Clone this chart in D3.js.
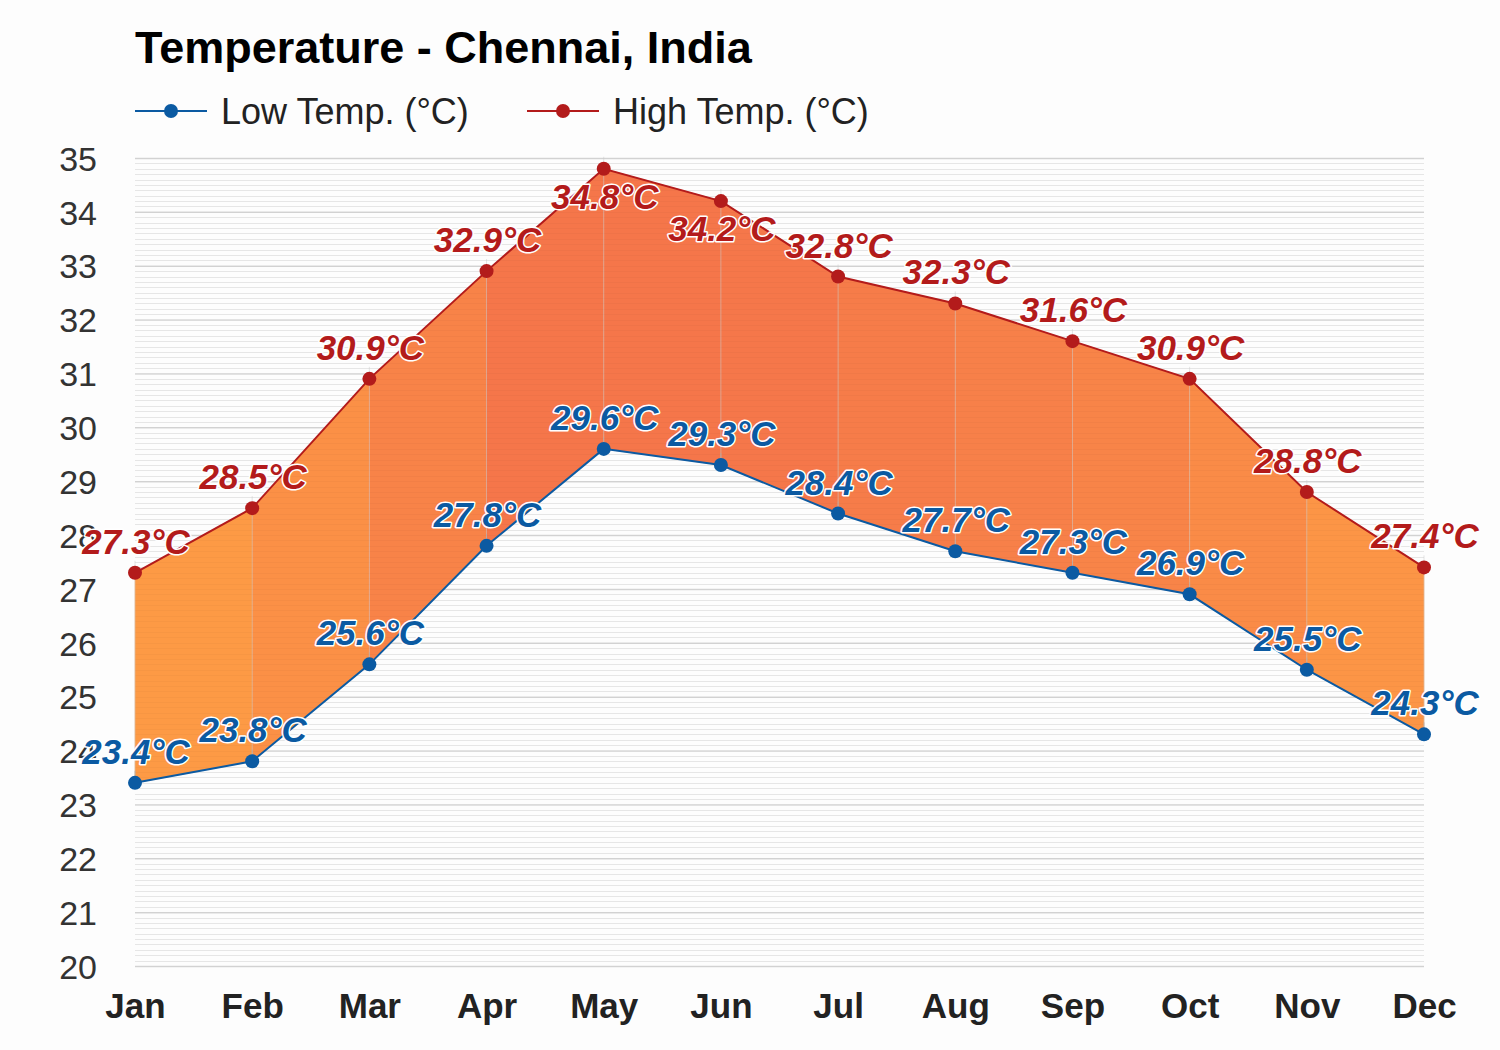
<!DOCTYPE html>
<html><head><meta charset="utf-8">
<script src="https://cdn.jsdelivr.net/npm/d3@7"></script>
<style>
body{margin:0;background:#fdfdfd;}
svg{display:block;font-family:"Liberation Sans",Arial,sans-serif;}
</style></head>
<body>
<svg id="chart" width="1500" height="1050"></svg>
<script>
const months = ["Jan","Feb","Mar","Apr","May","Jun","Jul","Aug","Sep","Oct","Nov","Dec"];
const lowTemps = [23.4,23.8,25.6,27.8,29.6,29.3,28.4,27.7,27.3,26.9,25.5,24.3];
const highTemps = [27.3,28.5,30.9,32.9,34.8,34.2,32.8,32.3,31.6,30.9,28.8,27.4];
const yTicks = [20,21,22,23,24,25,26,27,28,29,30,31,32,33,34,35];
const seriesNames = ["Low Temp. (°C)","High Temp. (°C)"];
const title = "Temperature - Chennai, India";

const lowColor = "#0b5aa2", highColor = "#b31b1b";
const svg = d3.select("#chart");
const x = d3.scalePoint().domain(months).range([135,1424]);
const y = d3.scaleLinear().domain([20,35]).range([966,158]);

svg.append("rect").attr("width",1500).attr("height",1050).attr("fill","#fdfdfd");

const minor = d3.range(200,351).map(v=>v/10);
svg.append("g").selectAll("line").data(minor.filter(v=>Math.abs(v-Math.round(v))>1e-6)).join("line")
  .attr("x1",135).attr("x2",1424).attr("y1",d=>Math.round(y(d))+0.5).attr("y2",d=>Math.round(y(d))+0.5)
  .attr("stroke","#ececec").attr("stroke-width",1);
const yAxis = svg.append("g").attr("transform","translate(135,0)")
  .call(d3.axisLeft(y).tickValues(yTicks).tickSize(-1289).tickFormat(d3.format("d")));
yAxis.select(".domain").remove();
yAxis.selectAll(".tick line").attr("stroke","#d8d8d8").attr("stroke-width",1.5);
yAxis.selectAll(".tick text").attr("x",-38).attr("fill","#333").attr("font-size",34)
  .attr("font-family","'Liberation Sans',Arial,sans-serif").attr("dy","0.36em");

const color = d3.scaleLinear().domain([25.7,31.3]).range(["#fd9a45","#f5764a"]).clamp(true);
for(let i=0;i<months.length-1;i++){
  const avg=(lowTemps[i]+lowTemps[i+1]+highTemps[i]+highTemps[i+1])/4;
  const area = d3.area().x(d=>x(d.m)).y0(d=>y(d.lo)).y1(d=>y(d.hi));
  svg.append("path").datum([{m:months[i],lo:lowTemps[i],hi:highTemps[i]},{m:months[i+1],lo:lowTemps[i+1],hi:highTemps[i+1]}])
    .attr("d",area).attr("fill",color(avg)).attr("stroke",color(avg)).attr("stroke-width",0.5);
}
svg.append("g").selectAll("line").data(minor).join("line")
  .attr("x1",135).attr("x2",1424).attr("y1",d=>Math.round(y(d))+0.5).attr("y2",d=>Math.round(y(d))+0.5)
  .attr("stroke","#000").attr("stroke-opacity",0.025).attr("stroke-width",1);
svg.append("g").selectAll("line").data(months).join("line")
  .attr("x1",d=>x(d)).attr("x2",d=>x(d))
  .attr("y1",(d,i)=>y(lowTemps[i])).attr("y2",(d,i)=>y(highTemps[i])-12)
  .attr("stroke","#ccc").attr("stroke-opacity",0.5).attr("stroke-width",1);
svg.append("g").selectAll("line").data(months).join("line")
  .attr("x1",d=>x(d)).attr("x2",d=>x(d))
  .attr("y1",(d,i)=>y(lowTemps[i])).attr("y2",(d,i)=>y(lowTemps[i])-12)
  .attr("stroke","#aaa").attr("stroke-opacity",0.6).attr("stroke-width",1);

const line = d3.line().x((d,i)=>x(months[i])).y(d=>y(d));
svg.append("path").datum(lowTemps).attr("d",line).attr("fill","none").attr("stroke",lowColor).attr("stroke-width",2);
svg.append("path").datum(highTemps).attr("d",line).attr("fill","none").attr("stroke",highColor).attr("stroke-width",2);
svg.append("g").selectAll("circle").data(lowTemps).join("circle")
  .attr("cx",(d,i)=>x(months[i])).attr("cy",d=>y(d)).attr("r",7).attr("fill",lowColor);
svg.append("g").selectAll("circle").data(highTemps).join("circle")
  .attr("cx",(d,i)=>x(months[i])).attr("cy",d=>y(d)).attr("r",7).attr("fill",highColor);

function labels(data,col,below){
  svg.append("g").selectAll("text").data(data).join("text")
    .attr("x",(d,i)=>x(months[i])+1).attr("y",d=>below(d)?y(d)+40:y(d)-19)
    .attr("text-anchor","middle").attr("font-size",35).attr("font-weight","bold").attr("font-style","italic")
    .attr("fill",col).attr("stroke","#fff").attr("stroke-width",3).attr("paint-order","stroke")
    .attr("stroke-linejoin","round")
    .text(d=>d.toFixed(1)+"°C");
}
labels(lowTemps,lowColor,()=>false);
labels(highTemps,highColor,d=>d>34);

const xAxis = svg.append("g").attr("transform","translate(0,966)")
  .call(d3.axisBottom(x).tickSize(0).tickPadding(0));
xAxis.select(".domain").remove();
xAxis.selectAll(".tick text").attr("y",52).attr("dy",0).attr("font-size",35).attr("font-weight","bold")
  .attr("fill","#222").attr("font-family","'Liberation Sans',Arial,sans-serif");

svg.append("text").attr("x",135).attr("y",63).attr("font-size",45).attr("font-weight","bold")
  .attr("fill","#000").text(title);

const leg = [{n:seriesNames[0],c:lowColor,x0:135},{n:seriesNames[1],c:highColor,x0:527}];
const lg = svg.append("g").selectAll("g").data(leg).join("g").attr("transform",d=>`translate(${d.x0},111)`);
lg.append("line").attr("x1",0).attr("x2",72).attr("stroke",d=>d.c).attr("stroke-width",2);
lg.append("circle").attr("cx",36).attr("r",7).attr("fill",d=>d.c);
lg.append("text").attr("x",86).attr("y",13).attr("font-size",36).attr("fill","#222").text(d=>d.n);
</script>
</body></html>
